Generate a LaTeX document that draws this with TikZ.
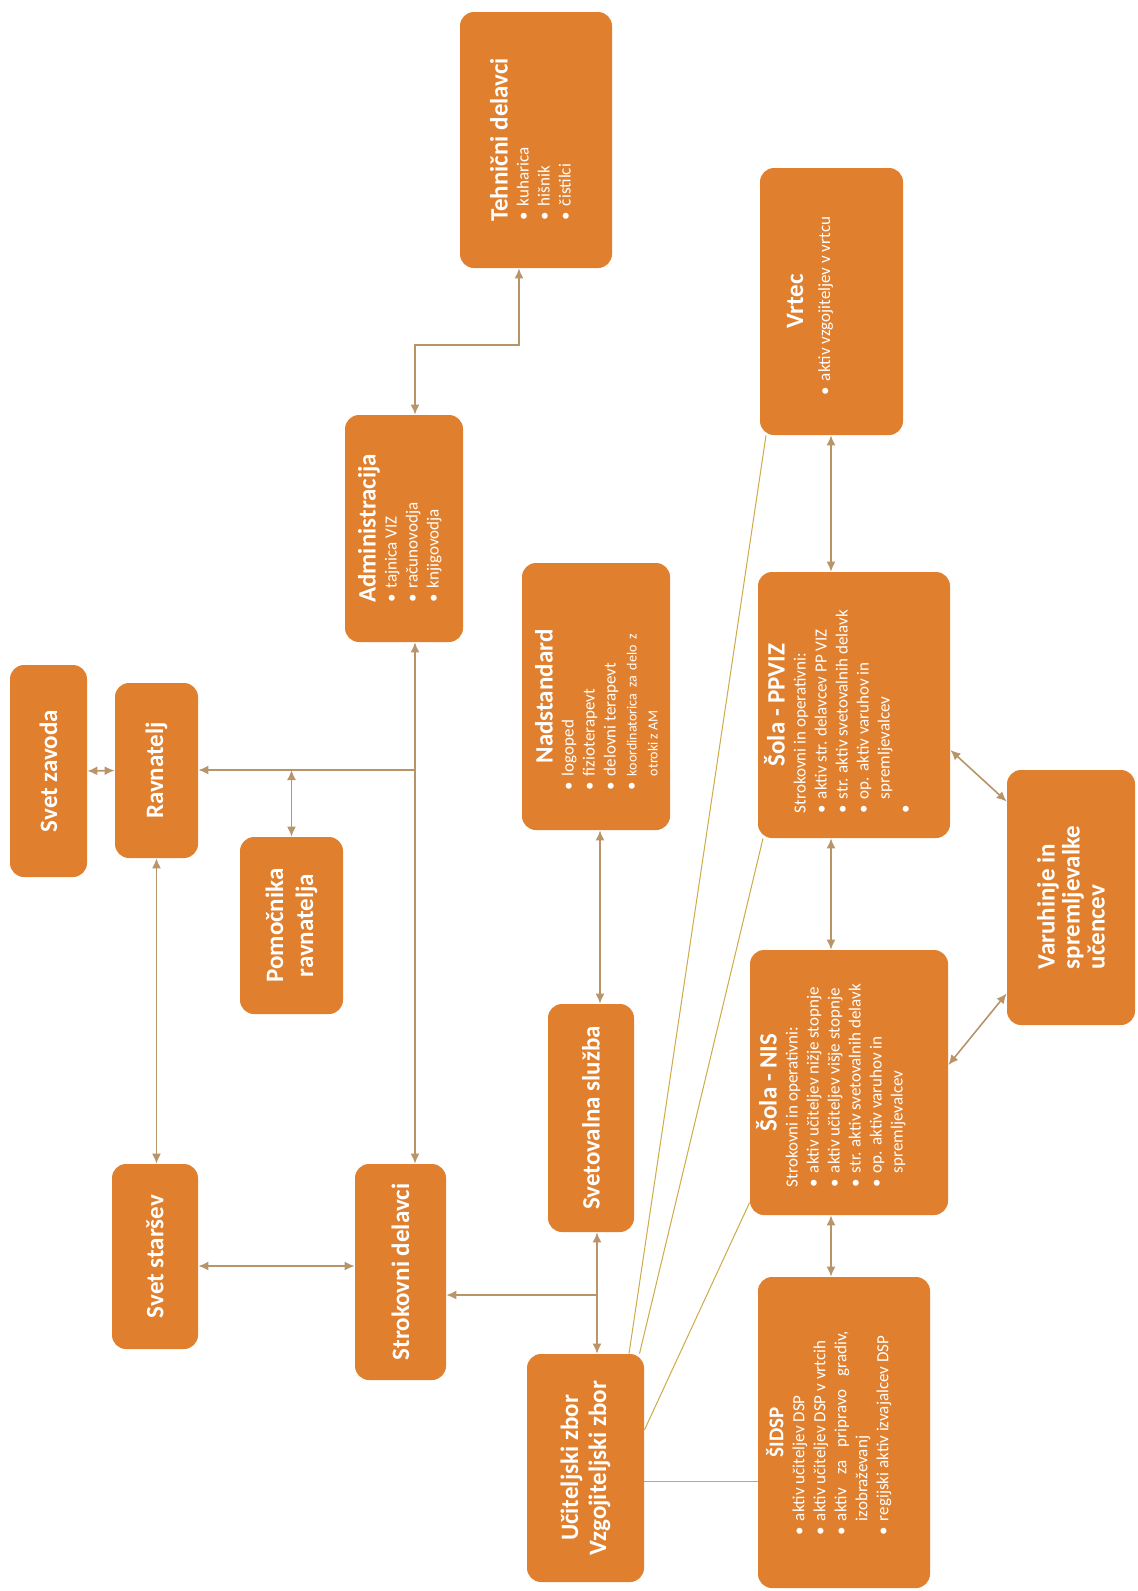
\documentclass[tikz,border=0pt]{standalone}
\usepackage{fontspec}
\setmainfont{Carlito}
\usepackage{tikz}
\usetikzlibrary{arrows.meta}
\definecolor{boxorange}{RGB}{224,128,46}
\definecolor{linkbrown}{RGB}{184,148,104}
\definecolor{tieline}{RGB}{206,170,72}
\setlength{\parskip}{0pt}
\newcommand{\bodyfont}{\fontsize{8.5}{10.5}\selectfont}
\newcommand{\smallbody}{\fontsize{7}{10.5}\selectfont}
\newcommand{\boxtitle}[2][12.5]{\noindent\makebox[\linewidth]{\fontsize{#1}{14}\selectfont\bfseries #2}\par}
\newcommand{\itx}[1]{\par\noindent\mbox{#1}}
\newcommand{\itm}[1]{\par\noindent\makebox[7pt][l]{\textbullet}\mbox{#1}}
\newcommand{\itc}[1]{\par\noindent\hspace*{7pt}\mbox{#1}}
\tikzset{
  unit/.style={fill=boxorange, rounded corners=7pt, rotate=90, text=white, inner sep=0pt},
  head/.style={unit, align=center, font=\fontsize{12.5}{14}\selectfont\bfseries},
  link/.style={draw=linkbrown, line width=0.8pt, {Latex[length=5pt,width=4.5pt]}-{Latex[length=5pt,width=4.5pt]}},
  tolink/.style={draw=linkbrown, line width=0.8pt, -{Latex[length=5pt,width=4.5pt]}},
  tie/.style={draw=tieline, line width=0.5pt}
}
\begin{document}
\begin{tikzpicture}[x=0.5pt, y=-0.5pt]
  \useasboundingbox (0,0) rectangle (1138,1591);
  \fill[white] (0,0) rectangle (1138,1591);

  \node[unit, inner xsep=24pt, inner ysep=15pt] (tehnicni) at (536,140)
    {\parbox[c][46pt][t]{80pt}{\bodyfont\boxtitle{Tehnični delavci}\itm{kuharica}\itm{hišnik}\itm{čistilci}}};
  \node[unit, inner xsep=20pt, inner ysep=13.5pt] (vrtec) at (831.5,301.5)
    {\parbox[c][44.5pt][t]{93.5pt}{\bodyfont\boxtitle{Vrtec}\vspace{3pt}\itm{aktiv vzgojiteljev v vrtcu}}};
  \node[unit, inner xsep=20pt, inner ysep=6.5pt] (admin) at (404,528.5)
    {\parbox[c][46pt][t]{73.5pt}{\bodyfont\boxtitle{Administracija}\itm{tajnica VIZ}\itm{računovodja}\itm{knjigovodja}}};
  \node[unit, inner xsep=20pt, inner ysep=6.5pt] (nadstandard) at (596,696.5)
    {\parbox[c][61pt][t]{93.5pt}{\bodyfont\boxtitle{Nadstandard}\itm{logoped}\itm{fizioterapevt}\itm{delovni terapevt}%
      \itm{\smallbody\makebox[71pt][s]{koordinatorica za delo z}}\itc{\smallbody otroki z AM}}};
  \node[unit, inner xsep=12.5pt, inner ysep=3pt] (ppviz) at (854,705)
    {\parbox[c][90pt][t]{108pt}{\bodyfont\boxtitle{Šola - PPVIZ}\itx{Strokovni in operativni:}%
      \itm{aktiv str. delavcev PP VIZ}\itm{str. aktiv svetovalnih delavk}\itm{op. aktiv varuhov in}\itc{spremljevalcev}\itm{}}};
  \node[unit, inner xsep=14pt, inner ysep=3pt] (nis) at (849,1082.5)
    {\parbox[c][93pt][t]{104.5pt}{\bodyfont\boxtitle{Šola - NIS}\itx{Strokovni in operativni:}%
      \itm{aktiv učiteljev nižje stopnje}\itm{aktiv učiteljev višje stopnje}\itm{str. aktiv svetovalnih delavk}%
      \itm{op. aktiv varuhov in}\itc{spremljevalcev}}};
  \node[unit, inner xsep=26.5pt, inner ysep=4pt] (sidsp) at (844,1432.5)
    {\parbox[c][78pt][t]{102.5pt}{\bodyfont\boxtitle[10.5]{ŠIDSP}\itm{aktiv učiteljev DSP}\itm{aktiv učiteljev DSP v vrtcih}%
      \itm{\makebox[95pt][s]{aktiv za pripravo gradiv,}}\itc{izobraževanj}\itm{regijski aktiv izvajalcev DSP}}};

  \node[head, minimum width=106pt, minimum height=38.5pt] (svetzavoda) at (48.5,771) {Svet zavoda};
  \node[head, minimum width=87.5pt, minimum height=41.5pt] (ravnatelj) at (156.5,770.5) {Ravnatelj};
  \node[head, minimum width=88.5pt, minimum height=51.5pt, font=\fontsize{12.5}{15}\selectfont\bfseries] (pomocnika) at (291.5,925.5) {Pomočnika\\ravnatelja};
  \node[head, minimum width=127.5pt, minimum height=64pt, align=left, font=\fontsize{12.5}{12.5}\selectfont\bfseries] (varuhinje) at (1071,897.5) {Varuhinje in\\spremljevalke\\učencev};
  \node[head, minimum width=114pt, minimum height=43pt] (svetovalna) at (591,1118) {Svetovalna služba};
  \node[head, minimum width=92.5pt, minimum height=43pt] (svetstarsev) at (155,1256.5) {Svet staršev};
  \node[head, minimum width=108pt, minimum height=45.5pt] (strokovni) at (400.5,1272) {Strokovni delavci};
  \node[head, minimum width=114pt, minimum height=58.5pt, font=\fontsize{12.5}{14}\selectfont\bfseries] (uciteljski) at (585.5,1468) {Učiteljski zbor\\Vzgojiteljski zbor};

  \coordinate (jr) at (415,770);
  \coordinate (ta) at (519,345);
  \coordinate (ss) at (0,1266);
  \coordinate (js) at (597,1295);
  \coordinate (jn) at (600,0);
  \coordinate (col) at (831,0);
  \coordinate (ud) at ([yshift=-6.5pt]uciteljski.south);

  \draw[link] (svetzavoda.south) -- (ravnatelj.north);
  \draw[tolink] (jr) -- (jr -| ravnatelj.south);
  \draw[link] (pomocnika.east) -- (pomocnika.east |- jr);
  \draw[link] (jr |- admin.west) -- (jr |- strokovni.east);
  \draw[link] (jr |- admin.east) |- (ta) -- (ta |- tehnicni.west);
  \draw[link] (ravnatelj.west) -- (ravnatelj.west |- svetstarsev.east);
  \draw[link] (svetstarsev.south |- ss) -- (strokovni.north |- ss);
  \draw[link] (js |- svetovalna.west) -- (js |- uciteljski.east);
  \draw[tolink] (js) -- (strokovni.south |- js);
  \draw[link] (jn |- nadstandard.west) -- (jn |- svetovalna.east);
  \draw[link] (col |- vrtec.west) -- (col |- ppviz.east);
  \draw[link] (col |- ppviz.west) -- (col |- nis.east);
  \draw[link] (col |- nis.west) -- (col |- sidsp.east);
  \draw[link] ([yshift=-22.5pt]ppviz.south) -- ([yshift=48pt]varuhinje.north);
  \draw[link] ([yshift=8.75pt]nis.south) -- ([yshift=-48pt]varuhinje.north);

  \draw[tie] ([xshift=21.75pt]uciteljski.east) -- ([xshift=-32.75pt]vrtec.west);
  \draw[tie] ([xshift=27pt]uciteljski.east) -- ([xshift=-45.5pt]ppviz.west);
  \draw[tie] ([yshift=19pt]uciteljski.south) -- ([yshift=-60pt]nis.north);
  \draw[tie] (ud) -- (ud -| sidsp.north);
\end{tikzpicture}
\end{document}
